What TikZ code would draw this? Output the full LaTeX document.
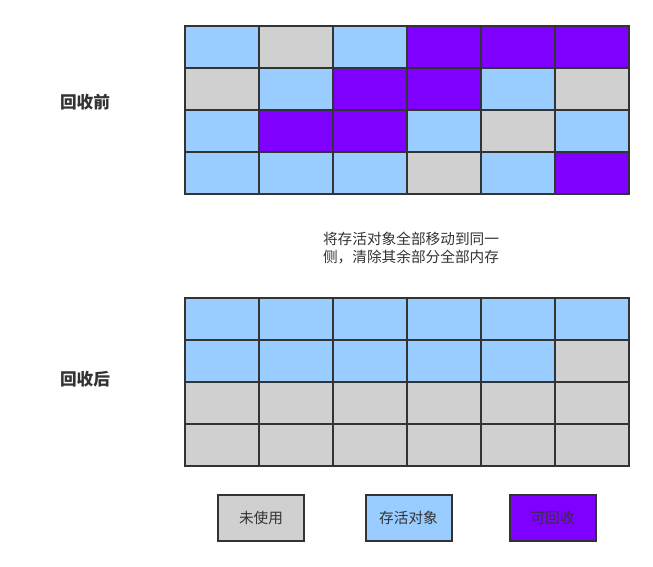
\documentclass[tikz,border=0pt]{standalone}
\usepackage{fontspec}
\newfontfamily\cjk{Noto Sans CJK SC}
\definecolor{cb}{HTML}{99CCFF}
\definecolor{cg}{HTML}{D0D0D0}
\definecolor{cp}{HTML}{7F00FF}
\definecolor{edge}{HTML}{333333}
\tikzset{
  cell/.style={draw=edge, line width=1.5pt, minimum width=55.5pt, minimum height=31.5pt, inner sep=0pt, anchor=north west},
  legendbox/.style={draw=edge, line width=1.5pt, minimum width=64.5pt, minimum height=34.5pt, inner sep=0pt, font=\cjk\fontsize{11}{13}\selectfont, text=edge},
  lbl/.style={font=\cjk\bfseries\fontsize{12.5}{15}\selectfont, text=edge},
}
\begin{document}
\begin{tikzpicture}[x=0.75pt,y=-0.75pt]
\useasboundingbox (0,0) rectangle (653,567);
% top grid
\foreach \row/\cols in {0/{cb,cg,cb,cp,cp,cp},1/{cg,cb,cp,cp,cb,cg},2/{cb,cp,cp,cb,cg,cb},3/{cb,cb,cb,cg,cb,cp}}{
  \foreach \c [count=\i from 0] in \cols {
    \node[cell, fill=\c] (t\row\i) at ({184+74*\i},{25+42*\row}) {};
  }
}
% bottom grid
\foreach \row/\cols in {0/{cb,cb,cb,cb,cb,cb},1/{cb,cb,cb,cb,cb,cg},2/{cg,cg,cg,cg,cg,cg},3/{cg,cg,cg,cg,cg,cg}}{
  \foreach \c [count=\i from 0] in \cols {
    \node[cell, fill=\c] (b\row\i) at ({184+74*\i},{297+42*\row}) {};
  }
}
\node[lbl] (before) at (85,102) {回收前};
\node[lbl] (after) at (85,379) {回收后};
\node[font=\cjk\fontsize{11}{13.5}\selectfont, text=edge, align=center] (note) at (411,248) {将存活对象全部移动到同一\\侧，清除其余部分全部内存};
\node[legendbox, fill=cg] (l1) at (261,518) {未使用};
\node[legendbox, fill=cb] (l2) at (408.5,518) {存活对象};
\node[legendbox, fill=cp] (l3) at (552.5,518) {可回收};
\end{tikzpicture}
\end{document}
